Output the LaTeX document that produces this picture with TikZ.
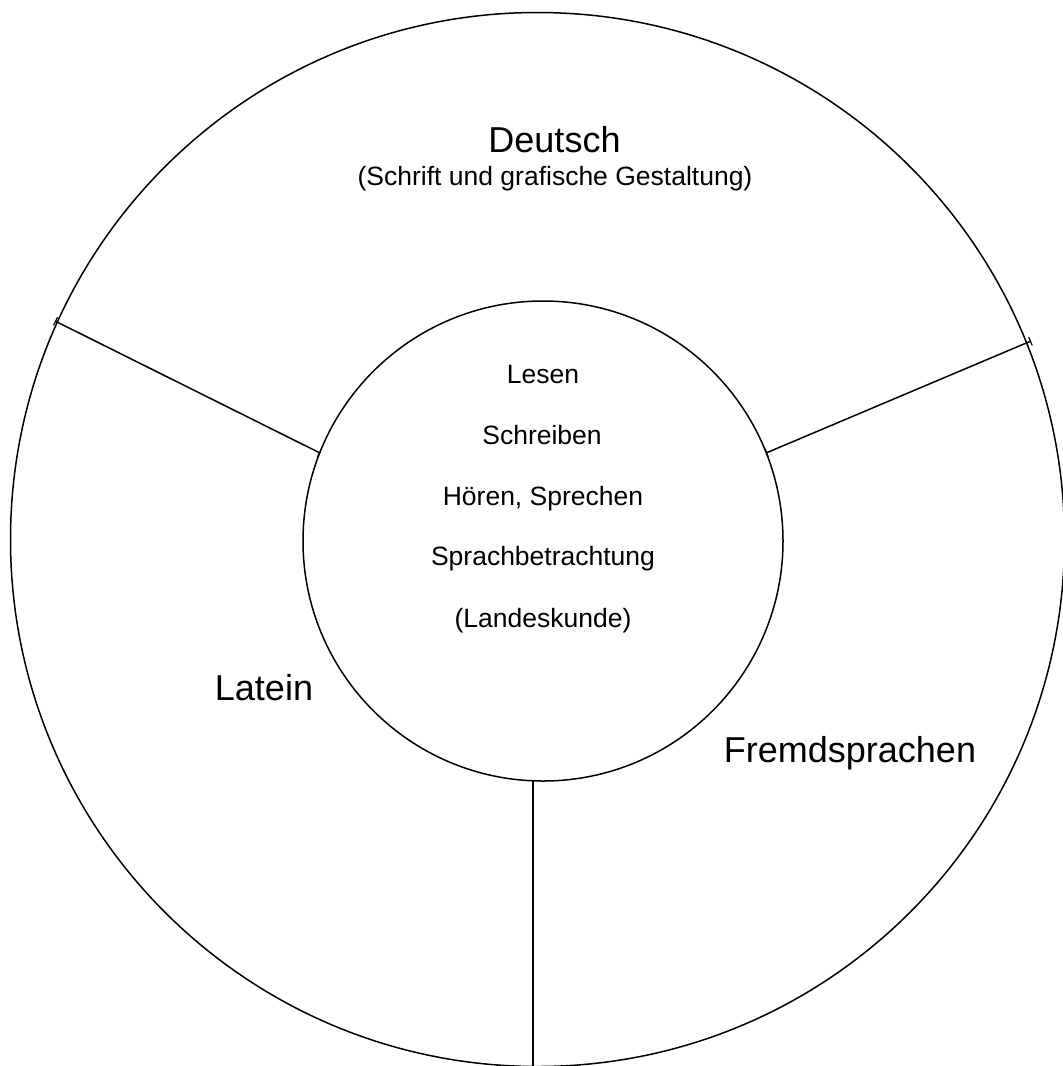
\documentclass[tikz,border=0pt]{standalone}
\usepackage{fontspec}
\setmainfont{Liberation Sans}
\usetikzlibrary{arrows.meta}
\begin{document}
\begin{tikzpicture}[x=1pt,y=-1pt,
  ring/.style={circle,draw,line width=1.5pt,inner sep=0pt,outer sep=0pt},
  divider/.style={line width=1.5pt},
  ticked/.style={divider,{Bar[width=9pt,line width=1.2pt]}-{Bar[width=9pt,line width=1.2pt]}},
  big/.style={anchor=base,inner sep=0pt,font=\fontsize{36}{42}\selectfont},
  small/.style={anchor=base,inner sep=0pt,font=\fontsize{26.5}{30}\selectfont}]
\clip (0,0) rectangle (1063,1066);
\node[ring,minimum size=1054pt] (outer) at (537.5,539.5) {};
\node[ring,minimum size=480pt] (inner) at (543,541) {};
% dividers
\coordinate (lo) at (55,321);
\coordinate (li) at (320,453);
\coordinate (ro) at (1031,341);
\coordinate (ri) at (766,453);
\coordinate (bi) at (533,781);
\coordinate (bo) at (533,1080);
\draw[ticked] (lo) -- (li);
\draw[ticked] (ri) -- (ro);
\draw[divider] (bi) -- (bo);
% labels
\node[big] (deutsch) at (554.5,152) {Deutsch};
\node[small] (schrift) at (555,185) {(Schrift und grafische Gestaltung)};
\node[big] (latein) at (264,700) {Latein};
\node[big] (fremd) at (850,762) {Fremdsprachen};
\node[small] (lesen) at (543,383) {Lesen};
\node[small] (schreiben) at (542,444) {Schreiben};
\node[small] (hoeren) at (543,505) {Hören, Sprechen};
\node[small] (sprach) at (543,565) {Sprachbetrachtung};
\node[small] (landes) at (543,627) {(Landeskunde)};
\end{tikzpicture}
\end{document}
